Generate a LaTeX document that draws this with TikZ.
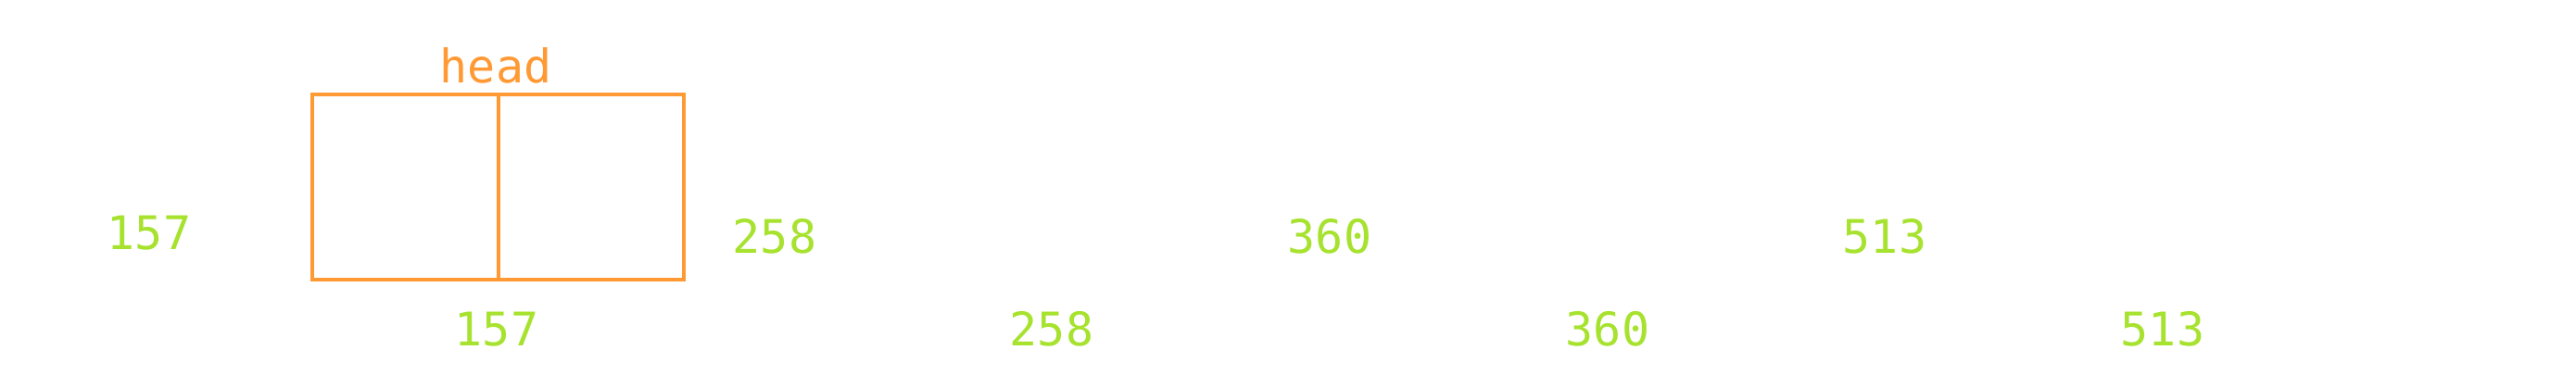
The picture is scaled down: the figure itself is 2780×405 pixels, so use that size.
\documentclass[tikz,border=0pt]{standalone}
\usepackage{fontspec}
\setmonofont{DejaVu Sans Mono}
\definecolor{headorange}{HTML}{FF9933}
\definecolor{numgreen}{HTML}{A6E22E}
\tikzset{
  numlabel/.style={anchor=base, font=\fontsize{25}{30}\selectfont\ttfamily, text=numgreen, inner sep=0pt},
  headlabel/.style={anchor=base, font=\fontsize{25}{30}\selectfont\ttfamily, text=headorange, inner sep=0pt}
}
\begin{document}
\begin{tikzpicture}[x=0.5pt, y=-0.5pt]
\useasboundingbox (0, 0) rectangle (2780, 405);

% Draw the node box
\draw[headorange, line width=2.4pt] (337, 102) rectangle (738, 302);
\draw[headorange, line width=2.4pt] (538, 102) -- (538, 302);
\node[headlabel] (head) at (535, 90) {head};

% Upper row of numbers
\node[numlabel] (up157) at (161, 270) {157};
\node[numlabel] (up258) at (836, 274) {258};
\node[numlabel] (up360) at (1435, 274) {360};
\node[numlabel] (up513) at (2034, 274) {513};

% Lower row of numbers
\node[numlabel] (lo157) at (536, 374) {157};
\node[numlabel] (lo258) at (1135, 374) {258};
\node[numlabel] (lo360) at (1735, 374) {360};
\node[numlabel] (lo513) at (2334, 374) {513};
\end{tikzpicture}
\end{document}
